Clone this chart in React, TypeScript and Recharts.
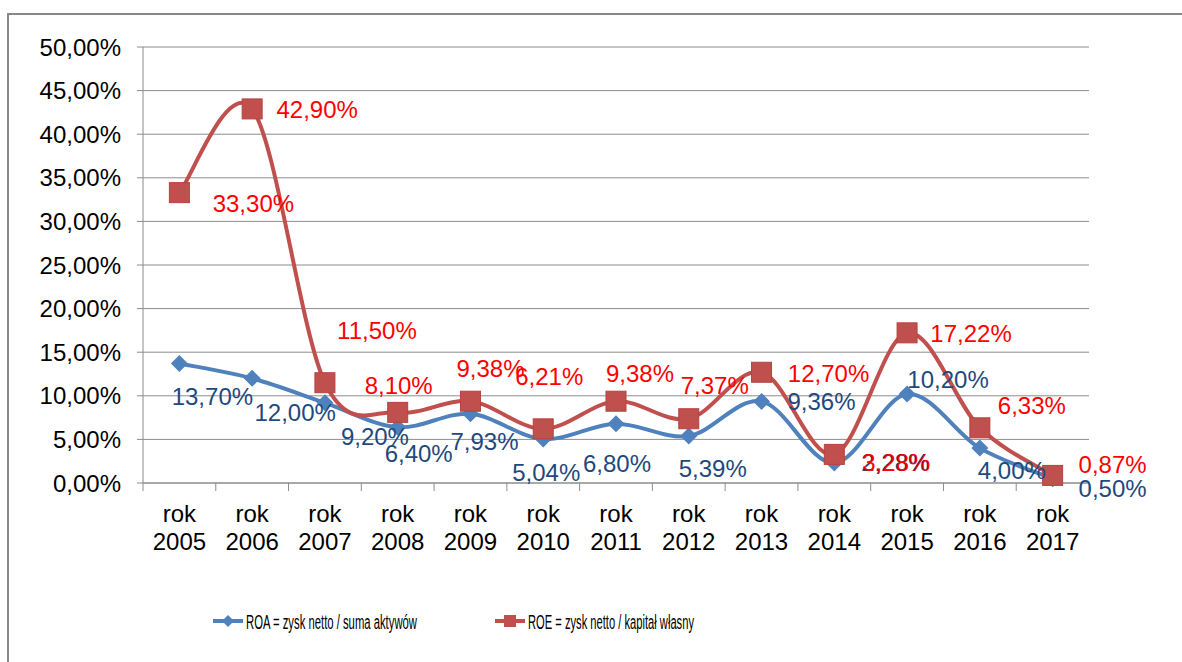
import React from "react";
import {
  LineChart,
  Line,
  XAxis,
  YAxis,
  CartesianGrid,
  LabelList
} from "recharts";

/* ---------- DATA ---------- */

const years = ["2005", "2006", "2007", "2008", "2009", "2010", "2011", "2012", "2013", "2014", "2015", "2016", "2017"];

const roa = [13.7, 12.0, 9.2, 6.4, 7.93, 5.04, 6.8, 5.39, 9.36, 2.28, 10.2, 4.0, 0.5];

const roe = [33.3, 42.9, 11.5, 8.1, 9.38, 6.21, 9.38, 7.37, 12.7, 3.28, 17.22, 6.33, 0.87];

const yTicks = [0, 5, 10, 15, 20, 25, 30, 35, 40, 45, 50];

const roaName = "ROA = zysk netto / suma aktywów";
const roeName = "ROE = zysk netto / kapitał własny";

/* ---------- LABEL OFFSETS (hand placed, like in the excel sheet) ---------- */

const roaLabelOffsets = [[33, 33], [43, 34], [50, 34], [21, 26], [14, 28], [3, 33], [1, 40], [24, 33], [60, 0], [61, -1], [41, -15], [32, 22], [60, 10]];
const roeLabelOffsets = [[74, 11], [65, 1], [52, -52], [1, -27], [20, -33], [6, -52], [24, -28], [26, -33], [67, 1], [62, 8], [64, 1], [52, -22], [60, -11]];

/* ---------- LAYOUT ---------- */

const W = 1182;
const H = 662;
const M = { top: 47, right: 93, bottom: 99, left: 0 };
const Y_W = 143;
const X_H = 80;
const PLOT_W = W - M.left - M.right - Y_W;

const FONT = "'Liberation Sans', Arial, sans-serif";
const GRID = "#8c8c8c";
const BLUE = "#4f81bd";
const RED = "#c0504d";

const data = years.map((year, i) => ({ i, year, roa: roa[i], roe: roe[i] }));
const xTicks = years.map((_, i) => i - 0.5).concat(years.length - 0.5);

const pct = (v: number) => v.toFixed(2).replace(".", ",") + "%";

/* ---------- EXCEL-LIKE SMOOTH CURVE ---------- */

function excelSmooth(context: any) {
  let pts: number[][] = [];
  return {
    areaStart() {},
    areaEnd() {},
    lineStart() { pts = []; },
    point(x: number, y: number) { pts.push([+x, +y]); },
    lineEnd() {
      const n = pts.length;
      if (!n) return;
      context.moveTo(pts[0][0], pts[0][1]);
      for (let k = 0; k < n - 1; k++) {
        const p0 = pts[k - 1] || pts[k];
        const p1 = pts[k];
        const p2 = pts[k + 1];
        const p3 = pts[k + 2] || p2;
        context.bezierCurveTo(
          p1[0] + (p2[0] - p0[0]) / 6, p1[1] + (p2[1] - p0[1]) / 6,
          p2[0] - (p3[0] - p1[0]) / 6, p2[1] - (p3[1] - p1[1]) / 6,
          p2[0], p2[1]
        );
      }
    }
  };
}

/* ---------- MARKERS ---------- */

function Diamond(props: any) {
  const { cx, cy, index } = props;
  const r = 8.5;
  return (
    <path
      key={`d-${index}`}
      d={`M${cx},${cy - r}L${cx + r},${cy}L${cx},${cy + r}L${cx - r},${cy}Z`}
      fill={BLUE}
    />
  );
}

function Square(props: any) {
  const { cx, cy, index } = props;
  const s = 20;
  return (
    <rect
      key={`s-${index}`}
      x={cx - s / 2}
      y={cy - s / 2}
      width={s}
      height={s}
      fill={RED}
      stroke="#b5433f"
      strokeWidth={1}
    />
  );
}

/* ---------- LABELS ---------- */

function makeLabel(offsets: number[][], color: string) {
  return (props: any) => {
    const { x, y, value, index } = props;
    const [dx, dy] = offsets[index] || [0, 0];
    return (
      <text
        x={x + dx}
        y={y + dy + 8.5}
        textAnchor="middle"
        fill={color}
        fontSize={24}
        fontFamily={FONT}
      >
        {pct(value)}
      </text>
    );
  };
}

/* ---------- X TICK ---------- */

function CategoryTick(props: any) {
  const { x, y, payload } = props;
  const idx = payload.value + 0.5;
  if (idx >= years.length) return <g />;
  const bw = PLOT_W / years.length;
  return (
    <text x={x + bw / 2} y={y} textAnchor="middle" fill="#000" fontSize={24} fontFamily={FONT}>
      <tspan x={x + bw / 2} dy={31}>rok</tspan>
      <tspan x={x + bw / 2} dy={28}>{years[idx]}</tspan>
    </text>
  );
}

/* ---------- LEGEND ---------- */

function ChartLegend() {
  return (
    <svg width={W} height={H} style={{ position: "absolute", left: 0, top: 0, pointerEvents: "none" }}>
      <line x1={213} x2={243} y1={621} y2={621} stroke={BLUE} strokeWidth={4} />
      <path d="M228,615L234,621L228,627L222,621Z" fill={BLUE} />
      <text x={246} y={629} fontSize={19.5} fontFamily={FONT} fill="#000" textLength={171} lengthAdjust="spacingAndGlyphs">
        {roaName}
      </text>
      <line x1={495} x2={525} y1={621} y2={621} stroke={RED} strokeWidth={4} />
      <rect x={504} y={615} width={12} height={12} fill={RED} />
      <text x={528} y={629} fontSize={19.5} fontFamily={FONT} fill="#000" textLength={166} lengthAdjust="spacingAndGlyphs">
        {roeName}
      </text>
    </svg>
  );
}

export default function App() {
  return (
    <div style={{ position: "absolute", left: 0, top: 0, width: W, height: H, overflow: "hidden", background: "#fff" }}>

      {/* FRAME */}
      <div style={{ position: "absolute", left: 7, top: 13, width: 1300, height: 800, border: "2px solid #888", boxSizing: "border-box" }} />

      {/* CHART */}
      <div style={{ position: "absolute", left: 0, top: 0 }}>
        <LineChart width={W} height={H} data={data} margin={M}>

          <CartesianGrid stroke={GRID} vertical={false} />

          <XAxis
            dataKey="i"
            type="number"
            domain={[-0.5, years.length - 0.5]}
            ticks={xTicks}
            interval={0}
            height={X_H}
            axisLine={{ stroke: GRID }}
            tickLine={{ stroke: GRID }}
            tickSize={8}
            tickMargin={0}
            tick={<CategoryTick />}
          />

          <YAxis
            type="number"
            domain={[0, 50]}
            ticks={yTicks}
            interval={0}
            width={Y_W}
            axisLine={{ stroke: GRID }}
            tickLine={{ stroke: GRID }}
            tickSize={6}
            tickMargin={16}
            tickFormatter={pct}
            tick={{ fill: "#000", fontSize: 24, fontFamily: FONT }}
          />

          <Line
            dataKey="roa"
            name={roaName}
            type={excelSmooth as any}
            stroke={BLUE}
            strokeWidth={4}
            dot={Diamond}
            activeDot={false}
            isAnimationActive={false}
          >
            <LabelList dataKey="roa" content={makeLabel(roaLabelOffsets, "#1f497d")} />
          </Line>

          <Line
            dataKey="roe"
            name={roeName}
            type={excelSmooth as any}
            stroke={RED}
            strokeWidth={4}
            dot={Square}
            activeDot={false}
            isAnimationActive={false}
          >
            <LabelList dataKey="roe" content={makeLabel(roeLabelOffsets, "#ff0000")} />
          </Line>

        </LineChart>
      </div>

      {/* LEGEND */}
      <ChartLegend />

    </div>
  );
}
